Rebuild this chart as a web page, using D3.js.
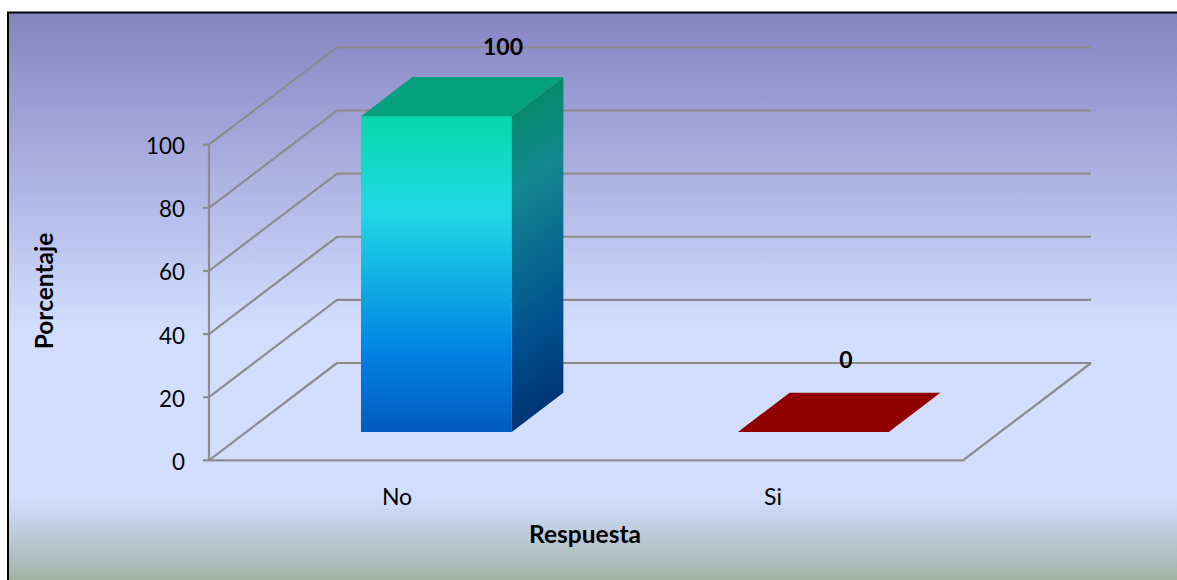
<!DOCTYPE html>
<html><head><meta charset="utf-8">
<script src="https://cdn.jsdelivr.net/npm/d3@7/dist/d3.min.js"></script>
<style>html,body{margin:0;padding:0;background:#fff;overflow:hidden}svg{display:block}text{font-family:Lato,"Open Sans",sans-serif;fill:#000}</style>
</head><body><svg id="c" width="1177" height="580"></svg>
<script>
const categories = ["No", "Si"];
const values = [100, 0];
const yTicks = [0, 20, 40, 60, 80, 100];
const xTitle = "Respuesta";
const yTitle = "Porcentaje";

const svg = d3.select("#c");
const defs = svg.append("defs");
function grad(id, stops, x2 = 0, y2 = 1) {
  const g = defs.append("linearGradient").attr("id", id)
    .attr("x1", 0).attr("y1", 0).attr("x2", x2).attr("y2", y2);
  stops.forEach(s => g.append("stop").attr("offset", s[0]).attr("stop-color", s[1]));
}
grad("bg", [[0, "#8484c2"], [0.56, "#d3deff"], [0.855, "#d3deff"], [0.93, "#b9c8d4"], [1, "#a0b2a4"]]);
grad("front", [[0, "#06d8ab"], [0.3, "#21d9e6"], [0.75, "#0082e4"], [1, "#005bbd"]]);
grad("side", [[0.1, "#058a6c"], [0.32, "#138790"], [0.75, "#00508f"], [1, "#003374"]], 0.1, 1);

svg.append("rect").attr("x", 9).attr("y", 13).attr("width", 1168).attr("height", 567).attr("fill", "url(#bg)");
svg.append("path").attr("d", "M8,580V12.5H1177").attr("fill", "none").attr("stroke", "#000").attr("stroke-width", 2);

const x = d3.scaleBand().domain(categories).range([209, 963]);
const y = d3.scaleLinear().domain([0, 100]).range([460.3, 144.7]);
const dx = d3.scaleLinear().domain([0, 1]).range([0, 128]);
const dy = d3.scaleLinear().domain([0, 1]).range([0, -97.3]);
const P = (px, py, d) => [px + dx(d), py + dy(d)];
const line = d3.line();
const axisCol = "#8c8c8c";
const right = x.range()[1], left = x.range()[0];

const grid = svg.append("g").attr("fill", "none").attr("stroke", axisCol).attr("stroke-width", 2.2);
yTicks.forEach(t => {
  const yy = y(t);
  grid.append("path").attr("d", line([[left, yy], P(left, yy, 1), P(right, yy, 1)])).attr("stroke-linejoin", "bevel");
  grid.append("line").attr("x1", left - 6).attr("x2", left).attr("y1", yy).attr("y2", yy);
});
grid.append("line").attr("x1", left).attr("x2", left).attr("y1", y(0)).attr("y2", y(100));
grid.append("path").attr("d", line([[left, y(0)], [right, y(0)], P(right, y(0), 1)]));

svg.append("g").selectAll("text").data(yTicks).join("text")
  .attr("x", 185).attr("y", d => y(d) + 1).attr("dy", "0.36em")
  .attr("text-anchor", "end").attr("font-size", 23.5)
  .attr("textLength", d => String(d).length * 13).attr("lengthAdjust", "spacingAndGlyphs")
  .text(d => d);

const barW = x.bandwidth() * 0.4, d0 = 0.292, d1 = 0.695;
const bars = svg.append("g");
categories.forEach((c, i) => {
  const bx = x(c) + x.bandwidth() / 2 - barW / 2 + 1.5;
  const v = values[i];
  const yb = y(0), yt = y(v);
  const fl = P(bx, yb, d0), fr = P(bx + barW, yb, d0), ftl = P(bx, yt, d0), ftr = P(bx + barW, yt, d0);
  const bbr = P(bx + barW, yb, d1), btr = P(bx + barW, yt, d1), btl = P(bx, yt, d1);
  const poly = pts => line(pts) + "Z";
  if (v > 0) {
    bars.append("path").attr("d", poly([fl, fr, ftr, ftl])).attr("fill", "url(#front)");
    bars.append("path").attr("d", poly([fr, bbr, btr, ftr])).attr("fill", "url(#side)");
    bars.append("path").attr("d", poly([ftl, ftr, btr, btl])).attr("fill", "#04a180");
  } else {
    bars.append("path").attr("d", poly([ftl, ftr, btr, btl])).attr("fill", "#900000");
  }
  svg.append("text").attr("x", x(c) + x.bandwidth() / 2 + (v > 0 ? 105.5 : 71.5)).attr("y", v > 0 ? 47 : 359.5)
    .attr("dy", "0.36em").attr("text-anchor", "middle").attr("font-size", 23).attr("font-weight", 700).text(v);
  svg.append("text").attr("x", x(c) + x.bandwidth() / 2 - (i === 0 ? 0.5 : 1.5)).attr("y", 497)
    .attr("dy", "0.36em").attr("text-anchor", "middle").attr("font-size", 23).text(c);
});

svg.append("text").attr("x", 585).attr("y", 534.5).attr("dy", "0.36em")
  .attr("text-anchor", "middle").attr("font-size", 24.5).attr("font-weight", 700).text(xTitle);
svg.append("text").attr("transform", "translate(44,291) rotate(-90)").attr("dy", "0.36em")
  .attr("text-anchor", "middle").attr("font-size", 24.5).attr("font-weight", 700).text(yTitle);
</script></body></html>
